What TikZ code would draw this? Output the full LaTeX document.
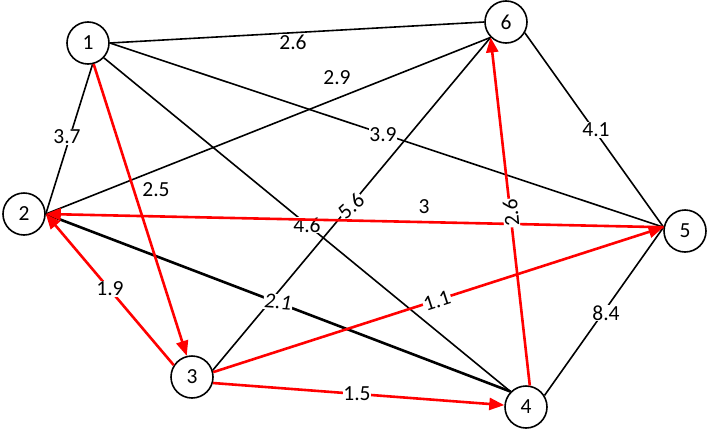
\documentclass[tikz,border=0pt]{standalone}
\usepackage{fontspec}
\setmainfont{Carlito}
\usetikzlibrary{arrows.meta}
\begin{document}
\begin{tikzpicture}[x=1pt,y=-1pt,
  vtx/.style={circle,draw=black,line width=1.6pt,minimum size=42pt,inner sep=0pt,font=\fontsize{21.5}{24}\selectfont},
  blk/.style={draw=black,line width=1.6pt},
  thk/.style={draw=black,line width=2.6pt},
  redarr/.style={draw=red,line width=2.6pt,-{Triangle[length=15pt,width=12pt]}},
  lbl/.style={fill=white,inner sep=0.8pt,font=\fontsize{21.5}{24}\selectfont},
  lbln/.style={inner sep=0.8pt,font=\fontsize{21.5}{24}\selectfont}]
\useasboundingbox (0,0) rectangle (708,431);
\node[vtx] (n1) at (88,43) {1};
\node[vtx] (n2) at (24,214) {2};
\node[vtx] (n3) at (192,377) {3};
\node[vtx] (n4) at (526,407) {4};
\node[vtx] (n5) at (685,231) {5};
\node[vtx] (n6) at (506,22) {6};
% black edges
\draw[blk] (n1.east) -- (n6.west);
\draw[blk] (n1.east) -- (n5.170);
\draw[blk] (n1.-43) -- (n4.135);
\draw[blk] (n1.-78) -- (n2.east);
\draw[blk] (n2.east) -- (n6.225);
\draw[blk] (n3.18) -- (n6.225);
\draw[blk] (n6.-30) -- (n5.170);
\draw[blk] (n4.32) -- (n5.170);
\draw[thk] (n2.east) -- (n4.135);
% black labels
\node[lbl] (l16) at (293,42) {2.6};
\node[lbln] (l26) at (337,78) {2.9};
\node[lbl] (l12) at (67,137) {3.7};
\node[lbl] (l15) at (383,135) {3.9};
\node[lbl] (l65) at (596,130) {4.1};
\node[lbl,rotate=42] (l36) at (351,206) {5.6};
\node[lbl] (l14) at (307,225) {4.6};
\node[lbl,rotate=-4] (l24) at (278,302) {\itshape 2.1};
\node[lbl] (l45) at (606,313) {8.4};
% red edges
\draw[redarr] (n1.-75) -- (n3.104);
\draw[redarr] (n3.147) -- (n2.east);
\draw[redarr] (n5.170) -- (n2.east);
\draw[redarr] (n4.80) -- (n6.225);
\draw[redarr] (n3.-16) -- (n4.175);
\draw[redarr] (n3.13) -- (n5.170);
% red labels
\node[lbln] (l13) at (156,190) {2.5};
\node[lbl] (l32) at (110,289) {1.9};
\node[lbln] (l52) at (424,207) {3};
\node[lbl,rotate=95] (l46) at (511,213) {2.6};
\node[lbl,rotate=18] (l35) at (437,301) {1.1};
\node[lbl] (l34) at (357,394) {1.5};
\end{tikzpicture}
\end{document}
